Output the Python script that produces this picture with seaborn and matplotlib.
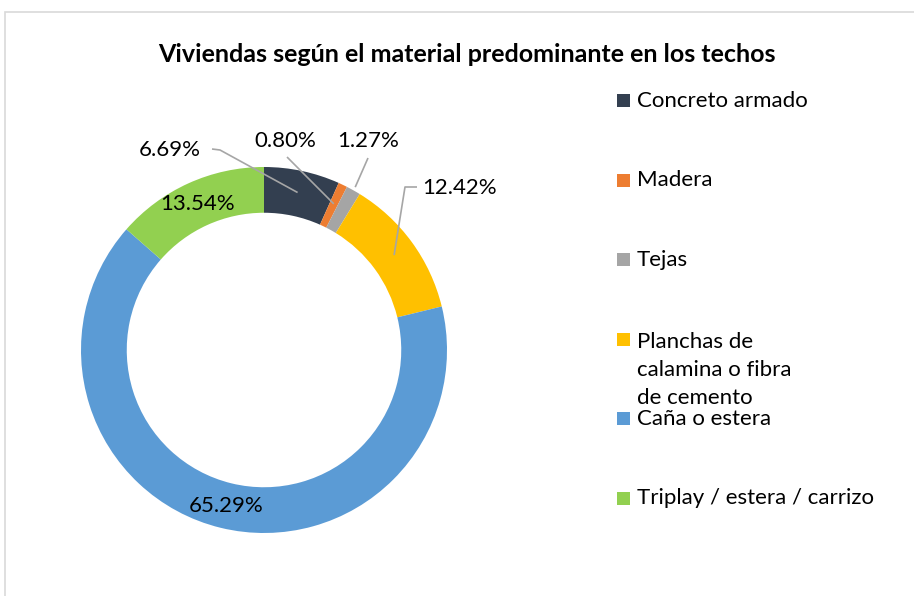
import numpy as np
import matplotlib
matplotlib.use("Agg")
import matplotlib.pyplot as plt
from matplotlib.patches import Rectangle
import seaborn as sns

categories = ["Concreto armado", "Madera", "Tejas",
              "Planchas de\ncalamina o fibra\nde cemento",
              "Caña o estera", "Triplay / estera / carrizo"]
values = [6.69, 0.80, 1.27, 12.42, 65.29, 13.54]
colors = ["#333F50", "#ED7D31", "#A5A5A5", "#FFC000", "#5B9BD5", "#92D050"]
title = "Viviendas según el material predominante en los techos"

sns.set_theme(style="white")
plt.rcParams['font.family'] = ['Lato', 'DejaVu Sans']

W, H = 914, 596
fig = plt.figure(figsize=(W / 100, H / 100), dpi=100)
fig.patch.set_facecolor("white")

# frame
fig.add_artist(Rectangle((5 / W, -0.05), 1.1, 1 - 12 / H + 0.05,
                         transform=fig.transFigure, fill=False,
                         edgecolor="#D9D9D9", lw=1.2))

cx, cy, R = 264, 350, 183
ax = fig.add_axes([(cx - R) / W, (H - cy - R) / H, 2 * R / W, 2 * R / H])

wedges, _ = ax.pie(values, colors=colors, startangle=90, counterclock=False,
                   radius=1, wedgeprops=dict(width=0.25, edgecolor="none"))
ax.set_xlim(-1, 1)
ax.set_ylim(-1, 1)
ax.set_aspect("auto")
ax.axis("off")

def px2d(px, py):
    return ((px - cx) / R, (cy - py) / R)

cum = np.cumsum([0] + values[:-1])
mids = [np.deg2rad(90 - (c + v / 2) * 3.6) for c, v in zip(cum, values)]

def pt(i, r):
    return (r * np.cos(mids[i]), r * np.sin(mids[i]))

fs = 16
lc = "#A6A6A6"
# inside labels
for i in (4, 5):
    x, y = pt(i, 0.875)
    ax.text(x, y, f"{values[i]:.2f}%", ha="center", va="center", fontsize=fs,
            color="#000000")

# outside labels with leader lines
label_pos = {0: (170, 150), 1: (285, 141), 2: (368, 141), 3: (460, 188)}
line_pts = {
    0: ([px2d(212, 149), px2d(220, 150)], 0.88),
    1: ([px2d(287, 157)], 0.885),
    2: ([px2d(368, 158)], 1.02),
    3: ([px2d(417, 187), px2d(405, 187)], 0.88),
}
for i, (tx, ty) in label_pos.items():
    x, y = px2d(tx, ty)
    ax.text(x, y, f"{values[i]:.2f}%", ha="center", va="center", fontsize=fs,
            color="#000000", clip_on=False)
    pts, r = line_pts[i]
    pts = pts + [pt(i, r)]
    ax.plot([p[0] for p in pts], [p[1] for p in pts], color=lc, lw=1.2,
            clip_on=False, solid_capstyle="butt")

fig.text(467 / W, 1 - 55 / H, title, ha="center", va="center", fontsize=18,
         fontweight="bold", color="#000000")

# legend
y0, step = 101, 79.4
for i, (cat, col) in enumerate(zip(categories, colors)):
    yc = y0 + i * step
    fig.add_artist(Rectangle((617 / W, 1 - (yc + 6.5) / H), 13 / W, 13 / H,
                             transform=fig.transFigure, facecolor=col,
                             edgecolor="none"))
    if "\n" in cat:
        fig.text(637 / W, 1 - (yc - 7) / H, cat, ha="left", va="top",
                 fontsize=16, color="#000000", linespacing=1.5)
    else:
        fig.text(637 / W, 1 - yc / H, cat, ha="left", va="center",
                 fontsize=16, color="#000000")

fig.savefig("out.png", dpi=100, facecolor="white")
